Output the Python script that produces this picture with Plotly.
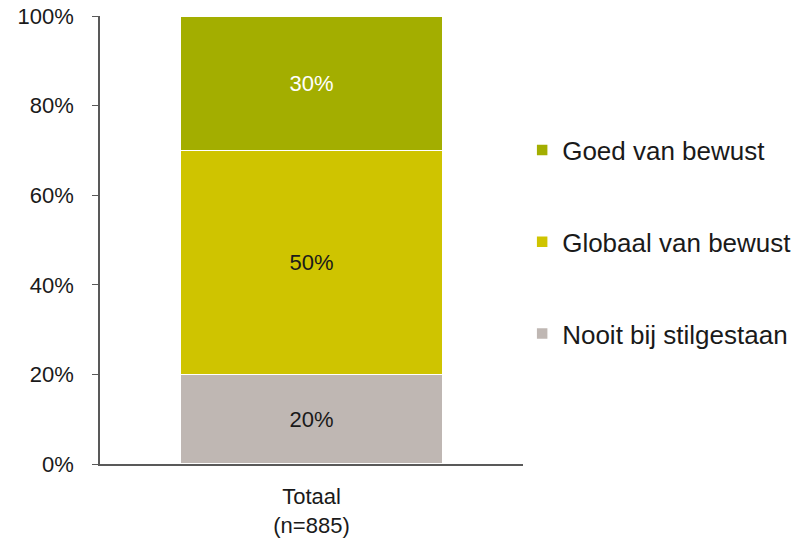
import plotly.graph_objects as go

# Stacked share of respondents per awareness level
categories = ["Totaal<br>(n=885)"]
series_names = ["Nooit bij stilgestaan", "Globaal van bewust", "Goed van bewust"]
series_values = [[20], [50], [30]]
series_colors = ["#BFB7B3", "#CFC400", "#A3AE00"]
label_colors = ["#1a1a1a", "#1a1a1a", "#ffffff"]
legend_ranks = [3, 2, 1]
tick_values = [0, 20, 40, 60, 80, 100]
tick_labels = ["0%", "20%", "40%", "60%", "80%", "100%"]

font_family = "Liberation Sans, Arial, sans-serif"
font_size = 22
legend_font_size = 26

fig = go.Figure()
for i, (name, vals, color, lab_color, rank) in enumerate(
        zip(series_names, series_values, series_colors, label_colors, legend_ranks)):
    fig.add_trace(go.Bar(
        x=categories,
        y=vals,
        name=name,
        legendgroup=f"g{i}",
        legendrank=rank,
        marker=dict(color=color, line=dict(color="white", width=1.5)),
        text=[f"{v}%" for v in vals],
        textposition="inside",
        insidetextanchor="middle",
        textfont=dict(family=font_family, size=font_size, color=lab_color),
        width=0.62,
    ))

fig.update_layout(
    barmode="stack",
    width=792,
    height=543,
    margin=dict(l=100, r=269, t=16, b=79, autoexpand=False),
    paper_bgcolor="white",
    plot_bgcolor="white",
    font=dict(family=font_family, size=font_size, color="#1a1a1a"),
    showlegend=True,
    legend=dict(
        traceorder="grouped",
        x=0.998,
        xanchor="left",
        y=0.4955,
        yanchor="middle",
        tracegroupgap=55,
        font=dict(family=font_family, size=legend_font_size, color="#1a1a1a"),
        itemwidth=30,
        bgcolor="rgba(0,0,0,0)",
    ),
    yaxis=dict(
        range=[0, 100],
        tickvals=tick_values,
        ticktext=tick_labels,
        showgrid=False,
        zeroline=False,
        showline=True,
        linecolor="#595959",
        linewidth=1.5,
        ticks="outside",
        ticklen=6,
        tickcolor="#595959",
        tickfont=dict(family=font_family, size=font_size, color="#1a1a1a"),
        ticklabelstandoff=14,
        automargin=False,
    ),
    xaxis=dict(
        showgrid=False,
        zeroline=False,
        showline=True,
        linecolor="#595959",
        linewidth=1.5,
        ticks="",
        tickfont=dict(family=font_family, size=font_size, color="#1a1a1a"),
        ticklabelstandoff=12,
        automargin=False,
    ),
)

fig.write_html("out.html")
